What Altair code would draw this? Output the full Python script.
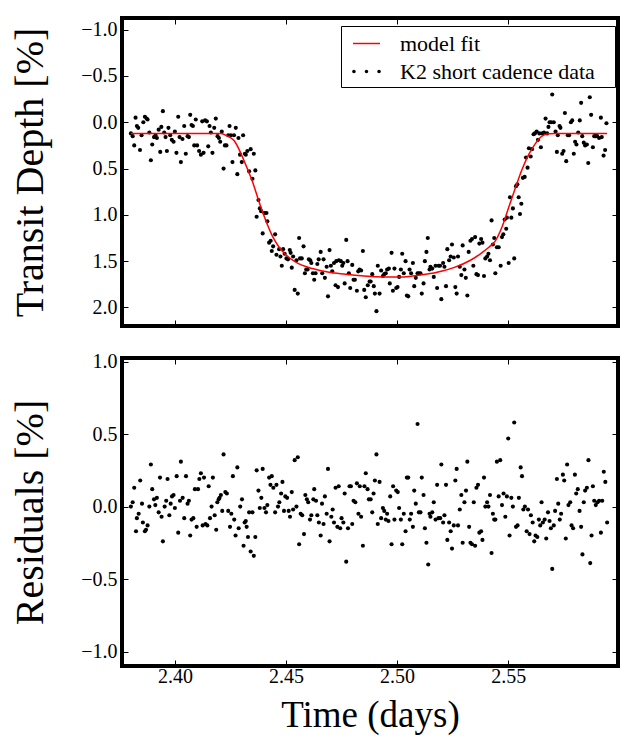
import altair as alt
import pandas as pd

# ---------------- data ----------------
depth_time = [
    2.3802, 2.3810, 2.3817, 2.3823, 2.3829, 2.3835, 2.3843, 2.3850, 2.3858, 2.3865,
    2.3873, 2.3877, 2.3885, 2.3892, 2.3898, 2.3906, 2.3913, 2.3919, 2.3927, 2.3934,
    2.3939, 2.3946, 2.3952, 2.3958, 2.3964, 2.3971, 2.3979, 2.3986, 2.3994, 2.4000,
    2.4007, 2.4015, 2.4021, 2.4027, 2.4034, 2.4042, 2.4049, 2.4057, 2.4063, 2.4069,
    2.4075, 2.4081, 2.4087, 2.4094, 2.4100, 2.4109, 2.4117, 2.4123, 2.4129, 2.4136,
    2.4144, 2.4150, 2.4156, 2.4162, 2.4169, 2.4177, 2.4184, 2.4192, 2.4198, 2.4204,
    2.4211, 2.4219, 2.4225, 2.4232, 2.4240, 2.4246, 2.4252, 2.4259, 2.4266, 2.4274,
    2.4281, 2.4286, 2.4293, 2.4301, 2.4307, 2.4315,
    2.4319, 2.4326, 2.4334, 2.4341, 2.4349, 2.4355, 2.4362, 2.4368, 2.4376, 2.4382,
    2.4388, 2.4395, 2.4403, 2.4412, 2.4416, 2.4424, 2.4431, 2.4436, 2.4442, 2.4451,
    2.4457, 2.4469, 2.4475, 2.4481, 2.4487, 2.4494, 2.4502, 2.4509, 2.4517, 2.4521,
    2.4526, 2.4532, 2.4539, 2.4547, 2.4553, 2.4559, 2.4563, 2.4571, 2.4579, 2.4585,
    2.4591, 2.4597, 2.4603, 2.4609, 2.4614, 2.4621, 2.4627, 2.4633, 2.4641, 2.4647,
    2.4656, 2.4663, 2.4669, 2.4675, 2.4683, 2.4689, 2.4696, 2.4702, 2.4708, 2.4716,
    2.4723, 2.4726, 2.4734, 2.4738, 2.4747, 2.4753, 2.4758, 2.4764, 2.4771, 2.4777,
    2.4783, 2.4789, 2.4798, 2.4804, 2.4810, 2.4819, 2.4825, 2.4831, 2.4838, 2.4846,
    2.4852, 2.4859, 2.4868, 2.4876,
    2.4881, 2.4888, 2.4895, 2.4900, 2.4907, 2.4913, 2.4921, 2.4928, 2.4936, 2.4942,
    2.4949, 2.4955, 2.4963, 2.4967, 2.4975, 2.4981, 2.4988, 2.4996, 2.5002, 2.5009,
    2.5017, 2.5023, 2.5030, 2.5038, 2.5044, 2.5050, 2.5056, 2.5063, 2.5071, 2.5077,
    2.5084, 2.5092, 2.5098, 2.5105, 2.5111, 2.5119, 2.5125, 2.5132, 2.5138, 2.5146,
    2.5150, 2.5158, 2.5165, 2.5173, 2.5180, 2.5187, 2.5193, 2.5199, 2.5207, 2.5213,
    2.5220, 2.5226, 2.5234, 2.5241, 2.5247, 2.5255, 2.5262, 2.5268, 2.5274, 2.5282,
    2.5289, 2.5295, 2.5303, 2.5309, 2.5316, 2.5322, 2.5330, 2.5337, 2.5343, 2.5351,
    2.5357, 2.5364, 2.5370, 2.5378, 2.5384, 2.5391, 2.5397, 2.5405, 2.5411, 2.5418,
    2.5425, 2.5431, 2.5437,
    2.5442, 2.5449, 2.5457, 2.5466, 2.5472, 2.5478, 2.5484, 2.5491, 2.5494, 2.5502,
    2.5508, 2.5514, 2.5521, 2.5527, 2.5535, 2.5541, 2.5547, 2.5553, 2.5559, 2.5566,
    2.5574, 2.5580, 2.5587, 2.5593, 2.5601, 2.5607, 2.5614, 2.5620, 2.5628, 2.5634,
    2.5640, 2.5647, 2.5653, 2.5661, 2.5668, 2.5675, 2.5681, 2.5686, 2.5693, 2.5698,
    2.5705, 2.5713, 2.5719, 2.5723, 2.5731, 2.5735, 2.5743, 2.5749, 2.5755, 2.5761,
    2.5768, 2.5774, 2.5782, 2.5788, 2.5795, 2.5801, 2.5807, 2.5815, 2.5822, 2.5828,
    2.5833, 2.5840, 2.5846, 2.5854, 2.5860, 2.5867, 2.5873, 2.5881, 2.5887, 2.5894,
    2.5900, 2.5909, 2.5917, 2.5921, 2.5929, 2.5936, 2.5942,
]
depth_value = [
    0.12, 0.15, 0.25, -0.05, 0.04, 0.06, 0.30, 0.14, 0.00, -0.06,
    -0.04, -0.03, 0.11, 0.41, 0.24, 0.16, 0.14, 0.17, 0.08, 0.32,
    0.05, -0.12, 0.11, 0.16, 0.31, 0.06, 0.14, 0.19, 0.21, 0.10,
    0.33, -0.06, 0.16, 0.43, 0.18, 0.04, 0.34, 0.15, 0.16, -0.08,
    0.03, 0.04, 0.25, -0.03, 0.25, 0.31, 0.35, -0.01, 0.33, -0.02,
    -0.01, 0.26, 0.04, 0.11, 0.33, 0.06, -0.04, 0.15, 0.17, 0.21,
    0.10, 0.50, 0.25, 0.25, 0.14, 0.04, 0.14, 0.43, 0.14, 0.06,
    0.56, 0.17, 0.35, 0.43, 0.14, 0.34,
    0.35, 0.31, 0.53, 0.29, 0.61, 0.34, 0.52, 1.02, 0.84, 0.93,
    0.96, 1.20, 0.98, 0.98, 1.07, 1.30, 1.28, 1.39, 1.34, 1.21,
    1.43, 1.37, 1.45, 1.55, 1.37, 1.42, 1.47, 1.48, 1.38, 1.41,
    1.57, 1.45, 1.81, 1.49, 1.85, 1.25, 1.47, 1.47, 1.34, 1.63,
    1.59, 1.59, 1.48, 1.49, 1.52, 1.63, 1.70, 1.63, 1.53, 1.48,
    1.40, 1.63, 1.48, 1.68, 1.56, 1.88, 1.38, 1.55, 1.61, 1.52,
    1.76, 1.50, 1.78, 1.49, 1.50, 1.55, 1.52, 1.74, 1.27, 1.50,
    1.63, 1.79, 1.54, 1.70, 1.70, 1.82, 1.61, 1.59, 1.60, 1.39,
    1.81, 1.89, 1.76, 1.72,
    1.72, 1.64, 1.77, 1.85, 2.04, 1.55, 1.85, 1.60, 1.66, 1.64,
    1.63, 1.59, 1.58, 1.74, 1.41, 1.82, 1.58, 1.79, 1.78, 1.67,
    1.59, 1.42, 1.63, 1.50, 1.87, 1.88, 1.59, 1.63, 1.52, 1.77,
    1.68, 1.63, 1.63, 1.63, 1.85, 1.74, 1.50, 1.40, 1.25, 1.59,
    1.56, 1.58, 1.67, 1.55, 1.79, 1.55, 1.55, 1.91, 1.52, 1.56,
    1.77, 1.37, 1.49, 1.45, 1.32, 1.46, 1.78, 1.85, 1.45, 1.56,
    1.65, 1.33, 1.59, 1.68, 1.87, 1.40, 1.28, 1.26, 1.55, 1.24,
    1.64, 1.65, 1.31, 1.26, 1.30, 1.66, 1.47, 1.45, 1.42, 1.49,
    1.06, 1.32, 1.25,
    1.63, 1.35, 1.35, 1.55, 1.24, 1.21, 1.05, 1.15, 1.03, 1.52,
    0.81, 1.03, 0.93, 1.47, 0.69, 0.67, 0.81, 0.99, 0.88, 0.60,
    0.59, 0.38, 0.49, 0.28, 0.37, 0.29, 0.13, 0.12, 0.10, 0.19,
    0.12, 0.27, 0.12, 0.11, -0.04, 0.12, 0.05, 0.00, 0.00, -0.30,
    0.00, 0.10, 0.32, 0.14, 0.04, 0.06, 0.34, 0.31, -0.10, 0.42,
    0.14, 0.14, 0.00, -0.02, 0.34, 0.21, 0.24, 0.11, -0.02, -0.21,
    0.15, 0.22, 0.25, 0.24, 0.44, -0.27, -0.08, 0.27, 0.15, 0.15,
    0.15, 0.17, -0.05, 0.16, 0.36, 0.30, 0.01,
]

model_time = [
    2.3802, 2.4150, 2.4207, 2.4237, 2.4267, 2.4296, 2.4319, 2.4349, 2.4379, 2.4409,
    2.4439, 2.4469, 2.4499, 2.4544, 2.4619, 2.4694, 2.4769, 2.4850, 2.4950, 2.5030,
    2.5105, 2.5180, 2.5255, 2.5330, 2.5375, 2.5413, 2.5442, 2.5472, 2.5502, 2.5532,
    2.5562, 2.5592, 2.5622, 2.5652, 2.5682, 2.5712, 2.5945,
]
model_value = [
    0.12, 0.12, 0.12, 0.15, 0.20, 0.33, 0.46, 0.64, 0.86, 1.06,
    1.23, 1.35, 1.43, 1.51, 1.58, 1.62, 1.64, 1.66, 1.67, 1.67,
    1.65, 1.62, 1.57, 1.49, 1.42, 1.35, 1.28, 1.13, 0.92, 0.71,
    0.51, 0.35, 0.23, 0.15, 0.125, 0.12, 0.12,
]

res_time = [
    2.3802, 2.3810, 2.3817, 2.3825, 2.3829, 2.3837, 2.3844, 2.3852, 2.3856, 2.3865,
    2.3870, 2.3877, 2.3885, 2.3892, 2.3898, 2.3906, 2.3912, 2.3919, 2.3927, 2.3933,
    2.3940, 2.3946, 2.3954, 2.3961, 2.3967, 2.3975, 2.3981, 2.3987, 2.3994, 2.4000,
    2.4008, 2.4015, 2.4023, 2.4027, 2.4035, 2.4042, 2.4050, 2.4057, 2.4063, 2.4069,
    2.4075, 2.4083, 2.4090, 2.4098, 2.4104, 2.4110, 2.4117, 2.4125, 2.4131, 2.4138,
    2.4146, 2.4152, 2.4158, 2.4165, 2.4171, 2.4179, 2.4186, 2.4191, 2.4197, 2.4201,
    2.4207, 2.4213, 2.4219, 2.4227, 2.4234, 2.4240, 2.4248, 2.4254, 2.4261, 2.4267,
    2.4273, 2.4281, 2.4287, 2.4294, 2.4302, 2.4309, 2.4314,
    2.4319, 2.4323, 2.4329, 2.4334, 2.4341, 2.4349, 2.4355, 2.4362, 2.4368, 2.4376,
    2.4382, 2.4389, 2.4395, 2.4403, 2.4410, 2.4416, 2.4424, 2.4430, 2.4436, 2.4443,
    2.4451, 2.4457, 2.4464, 2.4470, 2.4478, 2.4484, 2.4491, 2.4497, 2.4505, 2.4512,
    2.4518, 2.4526, 2.4532, 2.4539, 2.4547, 2.4553, 2.4559, 2.4566, 2.4573, 2.4581,
    2.4587, 2.4594, 2.4600, 2.4608, 2.4614, 2.4623, 2.4627, 2.4635, 2.4641, 2.4648,
    2.4656, 2.4662, 2.4669, 2.4675, 2.4683, 2.4689, 2.4696, 2.4704, 2.4710, 2.4716,
    2.4723, 2.4731, 2.4737, 2.4744, 2.4750, 2.4758, 2.4764, 2.4771, 2.4779, 2.4786,
    2.4792, 2.4798, 2.4804, 2.4812, 2.4819, 2.4826, 2.4832, 2.4838, 2.4846, 2.4853,
    2.4859, 2.4867, 2.4873,
    2.4881, 2.4888, 2.4894, 2.4900, 2.4907, 2.4913, 2.4921, 2.4928, 2.4936, 2.4942,
    2.4949, 2.4955, 2.4961, 2.4969, 2.4975, 2.4982, 2.4988, 2.4996, 2.5003, 2.5009,
    2.5017, 2.5023, 2.5030, 2.5038, 2.5044, 2.5050, 2.5057, 2.5063, 2.5071, 2.5077,
    2.5084, 2.5092, 2.5098, 2.5105, 2.5111, 2.5119, 2.5125, 2.5132, 2.5140, 2.5146,
    2.5150, 2.5158, 2.5165, 2.5173, 2.5180, 2.5186, 2.5194, 2.5199, 2.5207, 2.5213,
    2.5220, 2.5226, 2.5234, 2.5241, 2.5247, 2.5255, 2.5262, 2.5268, 2.5274, 2.5282,
    2.5289, 2.5295, 2.5303, 2.5310, 2.5316, 2.5324, 2.5330, 2.5337, 2.5345, 2.5351,
    2.5357, 2.5364, 2.5370, 2.5378, 2.5384, 2.5391, 2.5397, 2.5405, 2.5411, 2.5418,
    2.5425, 2.5431, 2.5437,
    2.5442, 2.5449, 2.5457, 2.5464, 2.5472, 2.5479, 2.5487, 2.5494, 2.5500, 2.5506,
    2.5514, 2.5521, 2.5527, 2.5535, 2.5542, 2.5548, 2.5556, 2.5562, 2.5568, 2.5575,
    2.5583, 2.5589, 2.5596, 2.5602, 2.5610, 2.5617, 2.5623, 2.5631, 2.5638, 2.5644,
    2.5650, 2.5656, 2.5664, 2.5671, 2.5679, 2.5686, 2.5692, 2.5698, 2.5705, 2.5711,
    2.5719, 2.5725, 2.5732, 2.5738, 2.5746, 2.5752, 2.5759, 2.5765, 2.5771, 2.5779,
    2.5785, 2.5792, 2.5800, 2.5806, 2.5813, 2.5821, 2.5828, 2.5834, 2.5840, 2.5846,
    2.5854, 2.5861, 2.5869, 2.5875, 2.5881, 2.5887, 2.5894, 2.5902, 2.5909, 2.5917,
    2.5923, 2.5930, 2.5937, 2.5945,
]
res_value = [
    0.00, 0.03, 0.13, -0.17, -0.08, -0.05, 0.18, 0.02, -0.11, -0.17,
    -0.16, -0.13, 0.00, 0.29, 0.12, 0.05, 0.01, 0.06, -0.04, 0.20,
    -0.07, -0.24, 0.00, 0.04, 0.19, -0.06, 0.02, 0.07, 0.08, -0.01,
    0.21, -0.18, 0.04, 0.31, 0.06, -0.08, 0.21, 0.02, 0.04, -0.20,
    -0.09, -0.08, 0.12, -0.14, 0.12, 0.19, 0.23, -0.13, 0.20, -0.12,
    -0.13, 0.14, -0.08, 0.00, 0.20, -0.06, -0.16, 0.03, 0.05, 0.06,
    0.08, -0.03, 0.36, 0.10, 0.09, -0.03, -0.14, -0.05, 0.21, -0.09,
    -0.20, 0.27, -0.15, 0.00, 0.05, -0.27, -0.11,
    -0.10, -0.14, -0.21, -0.04, -0.31, -0.04, -0.34, -0.21, 0.25, 0.11,
    -0.01, 0.06, 0.26, -0.01, -0.04, 0.01, 0.20, 0.15, 0.21, 0.13,
    -0.04, 0.15, 0.00, 0.03, 0.09, 0.17, -0.03, 0.07, 0.06, -0.03,
    -0.07, 0.10, -0.02, 0.32, 0.00, 0.34, -0.26, -0.05, -0.06, -0.19,
    0.08, 0.05, 0.03, -0.09, -0.06, 0.05, 0.12, 0.04, -0.06, -0.11,
    -0.20, 0.02, -0.12, 0.07, -0.05, 0.26, -0.24, -0.07, -0.02, -0.11,
    0.13, -0.14, 0.14, -0.15, -0.08, -0.11, 0.09, -0.38, -0.15, 0.14,
    0.14, -0.12, 0.04, 0.03, 0.16, -0.05, 0.14, -0.07, -0.27, 0.14,
    0.23, 0.12, 0.05,
    0.05, -0.04, 0.09, 0.18, 0.36, -0.12, 0.17, -0.08, -0.01, -0.03,
    -0.09, -0.05, -0.10, 0.07, -0.26, 0.14, -0.09, 0.11, 0.10, -0.01,
    -0.09, -0.26, -0.05, -0.17, 0.20, 0.20, -0.09, -0.05, -0.14, 0.11,
    0.02, 0.57, -0.04, -0.04, 0.20, 0.08, -0.15, -0.25, -0.40, -0.05,
    -0.07, -0.04, 0.03, -0.09, 0.15, -0.08, -0.08, 0.29, -0.11, -0.06,
    0.15, -0.23, -0.11, -0.17, -0.29, -0.13, 0.18, 0.26, -0.13, -0.02,
    0.08, -0.25, 0.03, 0.11, 0.31, -0.14, -0.25, -0.26, 0.03, -0.27,
    0.13, 0.15, -0.18, -0.17, -0.23, 0.20, 0.00, 0.03, 0.00, 0.08,
    -0.32, -0.05, -0.09,
    -0.09, 0.31, 0.07, 0.32, 0.01, 0.09, -0.07, 0.07, 0.47, -0.20,
    0.06, 0.00, 0.58, -0.14, -0.13, 0.06, 0.27, 0.21, -0.02, 0.00,
    -0.17, -0.02, -0.19, -0.06, -0.11, -0.24, -0.20, -0.21, -0.09, -0.13,
    0.03, -0.11, -0.09, -0.22, -0.04, -0.10, -0.15, -0.43, -0.13, -0.03,
    0.19, 0.02, -0.09, -0.05, 0.22, 0.18, -0.22, 0.29, 0.01, 0.03,
    -0.13, -0.15, 0.22, 0.09, 0.12, -0.03, -0.14, -0.33, 0.03, 0.11,
    0.13, 0.32, -0.39, -0.20, 0.14, 0.04, 0.01, 0.03, 0.04, -0.18,
    0.04, 0.24, 0.17, -0.11,
]

series_names = ["model fit", "K2 short cadence data"]
series_colors = ["#ff0000", "#000000"]
x_ticks = [2.40, 2.45, 2.50, 2.55]
depth_ticks = [-1.0, -0.5, 0.0, 0.5, 1.0, 1.5, 2.0]
resid_ticks = [-1.0, -0.5, 0.0, 0.5, 1.0]
x_domain = [2.3762, 2.5994]
depth_domain = [-1.126, 2.2]
resid_domain = [-1.1, 1.025]

# ---------------- styling ----------------
FONT = "Liberation Serif"
W, H = 496, 308
TICK = 6
LABEL_SIZE = 20
LINE_SYMBOL = "M-1,-0.055H1V0.055H-1Z"
DOTS_SYMBOL = ("M-1.06,0a0.13,0.13 0 1,0 0.26,0a0.13,0.13 0 1,0 -0.26,0Z"
               "M-0.13,0a0.13,0.13 0 1,0 0.26,0a0.13,0.13 0 1,0 -0.26,0Z"
               "M0.80,0a0.13,0.13 0 1,0 0.26,0a0.13,0.13 0 1,0 -0.26,0Z")


def ax(orient, values, labels=False, title=None, fmt=".1f", tsize=37, **kw):
    return alt.Axis(orient=orient, values=values, labels=labels, title=title,
                    format=fmt, ticks=True, tickSize=TICK, offset=-TICK,
                    tickColor="black", tickWidth=1, domain=False, grid=False,
                    labelFlush=False, labelOverlap=False,
                    labelFont=FONT, labelFontSize=LABEL_SIZE, labelColor="black",
                    titleFont=FONT, titleFontSize=tsize, titleFontWeight="normal",
                    titleColor="black", **kw)


n1 = min(len(depth_time), len(depth_value))
n2 = min(len(res_time), len(res_value))
top_df = pd.DataFrame({"time": depth_time[:n1], "value": depth_value[:n1]})
model_df = pd.DataFrame({"time": model_time, "value": model_value})
res_df = pd.DataFrame({"time": res_time[:n2], "value": res_value[:n2]})
legend_df = pd.DataFrame({"series": series_names})

xs = alt.Scale(domain=x_domain, nice=False, zero=False)
ys_top = alt.Scale(domain=depth_domain, reverse=True, nice=False, zero=False)
ys_bot = alt.Scale(domain=resid_domain, nice=False, zero=False)

top_pts = alt.Chart(top_df).mark_circle(size=17, color="black", opacity=1).encode(
    x=alt.X("time:Q", scale=xs, axis=ax("bottom", x_ticks, fmt=".2f")),
    y=alt.Y("value:Q", scale=ys_top,
            axis=ax("left", depth_ticks, labels=True, title="Transit Depth [%]",
                    tsize=40, labelPadding=5, titlePadding=30)),
)
top_line = alt.Chart(model_df).mark_line(color="#ff0000", strokeWidth=1.5,
                                         interpolate="monotone").encode(
    x=alt.X("time:Q", scale=xs, axis=ax("top", x_ticks, fmt=".2f")),
    y=alt.Y("value:Q", scale=ys_top, axis=ax("right", depth_ticks)),
)
leg = alt.Legend(title=None, orient="none", legendX=219, legendY=8,
                 strokeColor="black", fillColor="white", padding=4,
                 symbolSize=729, symbolOffset=8, symbolOpacity=1,
                 symbolStrokeWidth=0, labelOffset=20, labelFont=FONT,
                 labelFontSize=22, labelColor="black", rowPadding=3,
                 labelLimit=400, cornerRadius=0,
                 labelExpr="datum.label + '\u2800'")
legend_layer = alt.Chart(legend_df).mark_point(filled=True, size=0).encode(
    color=alt.Color("series:N", scale=alt.Scale(domain=series_names, range=series_colors), legend=leg),
    shape=alt.Shape("series:N", scale=alt.Scale(domain=series_names, range=[LINE_SYMBOL, DOTS_SYMBOL]), legend=leg),
)
top = alt.layer(top_pts, top_line, legend_layer).resolve_axis(
    x="independent", y="independent").properties(width=W, height=H)

bot_pts = alt.Chart(res_df).mark_circle(size=17, color="black", opacity=1).encode(
    x=alt.X("time:Q", scale=xs,
            axis=ax("bottom", x_ticks, labels=True, title="Time (days)", fmt=".2f",
                    labelPadding=0, titlePadding=11)),
    y=alt.Y("value:Q", scale=ys_bot,
            axis=ax("left", resid_ticks, labels=True, title="Residuals [%]",
                    tsize=40, labelPadding=5, titlePadding=30)),
)
bot_frame = alt.Chart(res_df).mark_circle(size=1, opacity=0).encode(
    x=alt.X("time:Q", scale=xs, axis=ax("top", x_ticks, fmt=".2f")),
    y=alt.Y("value:Q", scale=ys_bot, axis=ax("right", resid_ticks)),
)
bottom = alt.layer(bot_pts, bot_frame).resolve_axis(
    x="independent", y="independent").properties(width=W, height=H)

chart = alt.vconcat(top, bottom, spacing=20).resolve_scale(
    color="independent", shape="independent"
).properties(
    padding={"left": 0, "top": 7, "right": 5, "bottom": 0}
).configure_view(
    stroke="black", strokeWidth=4
).configure_axis(
    labelFont=FONT, titleFont=FONT, labelFontSize=LABEL_SIZE,
    titleFontWeight="normal", labelColor="black", titleColor="black",
)

chart.save("out.html", embed_options={"renderer": "svg", "actions": False})
